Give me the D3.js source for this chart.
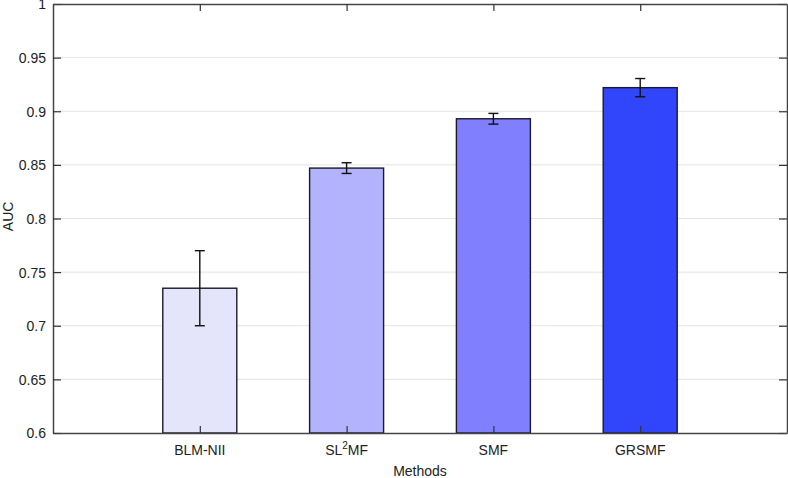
<!DOCTYPE html>
<html><head><meta charset="utf-8">
<script src="https://cdn.jsdelivr.net/npm/d3@7/dist/d3.min.js"></script>
<style>body{margin:0;background:#fff}svg{display:block}text{font-family:"Liberation Sans",Arial,sans-serif}</style>
</head><body><svg id="c" width="788" height="478"></svg>
<script>
const categories = ["BLM-NII", "SL2MF", "SMF", "GRSMF"];
const values = [0.735, 0.847, 0.893, 0.922];
const errors = [0.035, 0.005, 0.005, 0.0085];
const colors = ["#e4e4fa", "#b3b3fd", "#8080ff", "#3146fb"];
const yTicks = [0.6, 0.65, 0.7, 0.75, 0.8, 0.85, 0.9, 0.95, 1];

const svg = d3.select("#c");
const L = 53, R = 787, T = 4, B = 433;
const x = d3.scaleLinear().domain([0, 5]).range([L, R]);
const y = d3.scaleLinear().domain([0.6, 1]).range([B, T]);
const barW = 74;

// grid
svg.append("g").selectAll("line").data(yTicks.slice(1, -1)).join("line")
  .attr("x1", L).attr("x2", R).attr("y1", d => y(d)).attr("y2", d => y(d))
  .attr("stroke", "#e3e3e3").attr("stroke-width", 1);

// bars
svg.append("g").selectAll("rect").data(values).join("rect")
  .attr("x", (d, i) => x(i + 1) - barW / 2).attr("width", barW)
  .attr("y", d => y(d)).attr("height", d => y(0.6) - y(d))
  .attr("fill", (d, i) => colors[i]).attr("stroke", "#1a1a2a").attr("stroke-width", 1.4);

// error bars
const eb = svg.append("g").attr("stroke", "#111").attr("stroke-width", 1.4);
values.forEach((v, i) => {
  const cx = x(i + 1), e = errors[i];
  eb.append("line").attr("x1", cx).attr("x2", cx).attr("y1", y(v + e)).attr("y2", y(v - e));
  eb.append("line").attr("x1", cx - 5).attr("x2", cx + 5).attr("y1", y(v + e)).attr("y2", y(v + e));
  eb.append("line").attr("x1", cx - 5).attr("x2", cx + 5).attr("y1", y(v - e)).attr("y2", y(v - e));
});

// axes
const fmt = d => String(+d.toFixed(2));
const yAxisL = d3.axisLeft(y).tickValues(yTicks).tickFormat(fmt).tickSizeInner(-8).tickSizeOuter(0).tickPadding(7);
const gL = svg.append("g").attr("transform", `translate(${L},0)`).call(yAxisL);
const yAxisR = d3.axisRight(y).tickValues(yTicks).tickFormat("").tickSizeInner(-8).tickSizeOuter(0);
const gR = svg.append("g").attr("transform", `translate(${R},0)`).call(yAxisR);
const xAxisB = d3.axisBottom(x).tickValues([1, 2, 3, 4]).tickFormat("").tickSizeInner(-7).tickSizeOuter(0);
const gB = svg.append("g").attr("transform", `translate(0,${B})`).call(xAxisB);
const xAxisT = d3.axisTop(x).tickValues([1, 2, 3, 4]).tickFormat("").tickSizeInner(-7).tickSizeOuter(0);
const gT = svg.append("g").attr("transform", `translate(0,${T})`).call(xAxisT);
[gL, gR, gB, gT].forEach(g => {
  g.selectAll(".domain").attr("stroke", "#444").attr("stroke-width", 1.5);
  g.selectAll(".tick line").attr("stroke", "#333").attr("stroke-width", 1.2);
  g.selectAll("text").attr("font-size", 14).attr("fill", "#222");
});
gL.selectAll(".tick text").attr("dy", "0.35em");

// x tick labels
const xl = svg.append("g");
categories.forEach((c, i) => {
  const t = xl.append("text").attr("x", x(i + 1)).attr("y", 455).attr("text-anchor", "middle")
    .attr("font-size", 14).attr("fill", "#222");
  if (c === "SL2MF") {
    t.append("tspan").text("SL");
    t.append("tspan").text("2").attr("font-size", 10).attr("dy", -6);
    t.append("tspan").text("MF").attr("dy", 6);
  } else t.text(c);
});

svg.append("text").attr("x", x(2.5)).attr("y", 476).attr("text-anchor", "middle")
  .attr("font-size", 14).attr("fill", "#222").text("Methods");
svg.append("text").attr("transform", `translate(13,${y(0.802)}) rotate(-90)`).attr("text-anchor", "middle")
  .attr("font-size", 14).attr("fill", "#222").text("AUC");
</script></body></html>
